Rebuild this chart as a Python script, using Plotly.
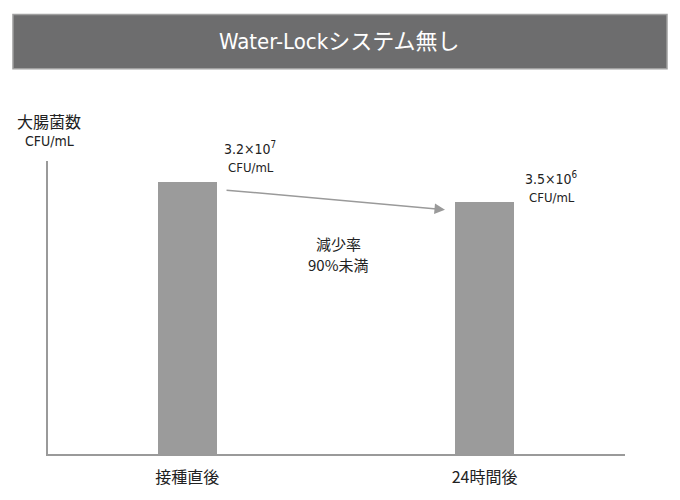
import plotly.graph_objects as go

# bar heights as drawn (relative scale, axis top = 100)
categories = ["接種直後", "24時間後"]
bar_heights = [92.7, 86.1]
value_labels = ["3.2×10<sup>7</sup>", "3.5×10<sup>6</sup>"]
unit = "CFU/mL"
title_text = "Water-Lockシステム無し"
y_title = "大腸菌数"
reduction_lines = ["減少率", "90%未満"]

FONT = "DejaVu Sans Condensed, Noto Sans CJK JP, sans-serif"
CJK = "Noto Sans CJK JP, sans-serif"
TXT = "#222222"
BAR = "#9b9b9b"
AXIS = "#9a9a9a"

fig = go.Figure()
fig.add_trace(go.Bar(
    x=categories, y=bar_heights,
    width=0.1975,
    marker=dict(color=BAR, line=dict(width=0)),
    hoverinfo="skip",
))

# title box
fig.add_shape(type="rect", xref="paper", yref="paper",
              x0=-0.0607, x1=1.0728, y0=1.3146, y1=1.5,
              fillcolor="#6d6d6e", line=dict(color="#a0a0a0", width=1.5), layer="above")
fig.add_annotation(text=title_text, xref="paper", yref="paper", x=0.506, y=1.407,
                   showarrow=False, font=dict(size=22, color="white", family=FONT),
                   xanchor="center", yanchor="middle")

# y axis title
fig.add_annotation(text=y_title, xref="paper", yref="paper", x=-0.057, y=1.137,
                   showarrow=False, font=dict(size=16, color=TXT, family=CJK),
                   xanchor="left", yanchor="middle")
fig.add_annotation(text=unit, xref="paper", yref="paper", x=-0.043, y=1.067,
                   showarrow=False, font=dict(size=14, color=TXT, family=FONT),
                   xanchor="left", yanchor="middle")

# value labels
fig.add_annotation(text=value_labels[0], xref="paper", yref="paper", x=0.301, y=1.045,
                   showarrow=False, font=dict(size=14, color=TXT, family=FONT),
                   xanchor="left", yanchor="middle")
fig.add_annotation(text=unit, xref="paper", yref="paper", x=0.309, y=0.979,
                   showarrow=False, font=dict(size=13, color=TXT, family=FONT),
                   xanchor="left", yanchor="middle")
fig.add_annotation(text=value_labels[1], xref="paper", yref="paper", x=0.823, y=0.942,
                   showarrow=False, font=dict(size=14, color=TXT, family=FONT),
                   xanchor="left", yanchor="middle")
fig.add_annotation(text=unit, xref="paper", yref="paper", x=0.83, y=0.877,
                   showarrow=False, font=dict(size=13, color=TXT, family=FONT),
                   xanchor="left", yanchor="middle")

# arrow between bars
fig.add_annotation(x=0.867, y=83.4, ax=0.127, ay=90.1,
                   xref="x", yref="y", axref="x", ayref="y",
                   text="", showarrow=True, arrowhead=2, arrowsize=1.4,
                   arrowwidth=1.5, arrowcolor=AXIS)

for line, ypos in zip(reduction_lines, [0.717, 0.648]):
    fig.add_annotation(text=line, xref="paper", yref="paper", x=0.503, y=ypos,
                       showarrow=False, font=dict(size=15, color=TXT, family=CJK),
                       xanchor="center", yanchor="middle", borderpad=0)

fig.update_layout(
    width=680, height=500,
    margin=dict(l=48, r=55, t=161, b=37),
    paper_bgcolor="white", plot_bgcolor="white",
    showlegend=False,
    bargap=0,
    xaxis=dict(range=[-0.4687, 1.4727], showline=True, linecolor=AXIS, linewidth=2,
               showgrid=False, zeroline=False, ticks="outside", ticklen=8,
               tickcolor="rgba(0,0,0,0)", tickfont=dict(size=16, color=TXT, family=CJK),
               fixedrange=True),
    yaxis=dict(range=[0, 100], showline=True, linecolor=AXIS, linewidth=2,
               showgrid=False, zeroline=False, showticklabels=False, ticks="",
               fixedrange=True),
)

fig.write_html("out.html", config={"displayModeBar": False},
               post_script="document.body.style.margin='0';")
